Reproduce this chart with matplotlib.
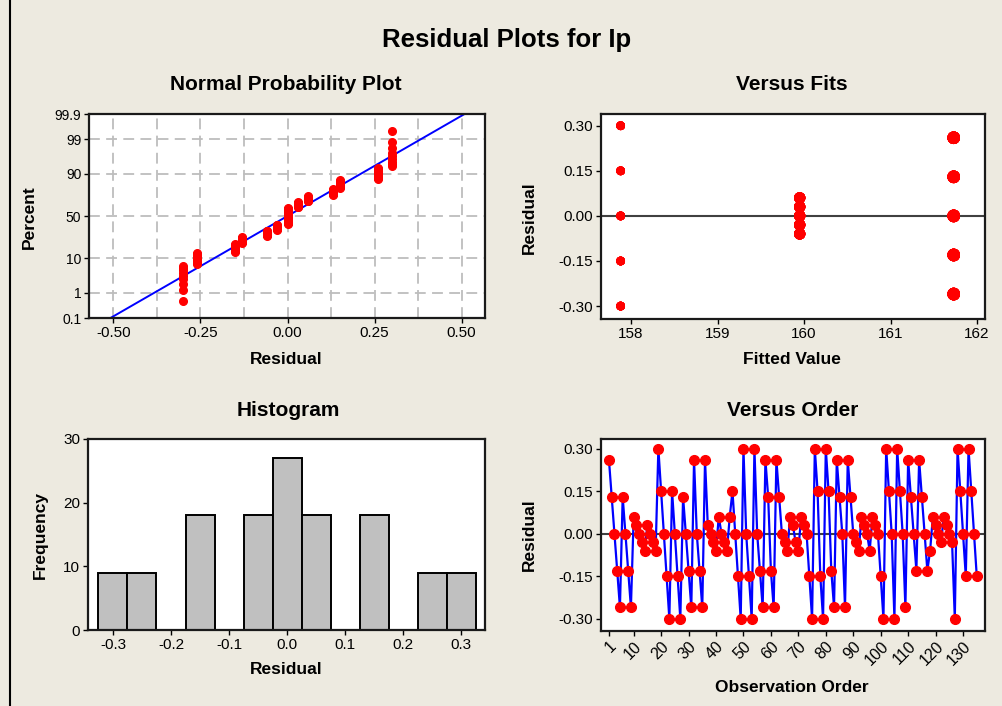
import matplotlib
matplotlib.use("Agg")
import matplotlib.pyplot as plt
import numpy as np
from statistics import NormalDist

plt.rcParams["font.family"] = "Liberation Sans"
plt.rcParams["axes.unicode_minus"] = False

residuals = [
    0.26, 0.13, 0.00, -0.13, -0.26, 0.13, 0.00, -0.13, -0.26,
    0.06, 0.03, 0.00, -0.03, -0.06, 0.03, 0.00, -0.03, -0.06,
    0.30, 0.15, 0.00, -0.15, -0.30, 0.15, 0.00, -0.15, -0.30,
    0.13, 0.00, -0.13, -0.26, 0.26, 0.00, -0.13, -0.26, 0.26,
    0.03, 0.00, -0.03, -0.06, 0.06, 0.00, -0.03, -0.06, 0.06,
    0.15, 0.00, -0.15, -0.30, 0.30, 0.00, -0.15, -0.30, 0.30,
    0.00, -0.13, -0.26, 0.26, 0.13, -0.13, -0.26, 0.26, 0.13,
    0.00, -0.03, -0.06, 0.06, 0.03, -0.03, -0.06, 0.06, 0.03,
    0.00, -0.15, -0.30, 0.30, 0.15, -0.15, -0.30, 0.30, 0.15,
    -0.13, -0.26, 0.26, 0.13, 0.00, -0.26, 0.26, 0.13, 0.00,
    -0.03, -0.06, 0.06, 0.03, 0.00, -0.06, 0.06, 0.03, 0.00,
    -0.15, -0.30, 0.30, 0.15, 0.00, -0.30, 0.30, 0.15, 0.00,
    -0.26, 0.26, 0.13, 0.00, -0.13, 0.26, 0.13, 0.00, -0.13,
    -0.06, 0.06, 0.03, 0.00, -0.03, 0.06, 0.03, 0.00, -0.03,
    -0.30, 0.30, 0.15, 0.00, -0.15, 0.30, 0.15, 0.00, -0.15,
]
# fitted value of each run of 9 observations
run_fits = [161.73, 159.95, 157.88, 161.73, 159.95, 157.88, 161.73, 159.95,
            157.88, 161.73, 159.95, 157.88, 161.73, 159.95, 157.88]

prob_ticks = [0.1, 1, 10, 50, 90, 99, 99.9]
prob_labels = ["0.1", "1", "10", "50", "90", "99", "99.9"]
npp_xticks = [-0.50, -0.25, 0.00, 0.25, 0.50]
fit_xticks = [158, 159, 160, 161, 162]
res_ticks = [-0.30, -0.15, 0.00, 0.15, 0.30]
hist_xticks = [-0.3, -0.2, -0.1, 0.0, 0.1, 0.2, 0.3]
hist_yticks = [0, 10, 20, 30]
order_ticks = [1, 10, 20, 30, 40, 50, 60, 70, 80, 90, 100, 110, 120, 130]

res = np.array(residuals)
fits = np.repeat(run_fits, 9)
obs = np.arange(1, len(res) + 1)

W, H = 1002, 706
BG = "#EDEAE0"
SPINE = "#1A1A1A"
nd = NormalDist()


def box(left, top, right, bottom):
    return [left / W, 1 - bottom / H, (right - left) / W, (bottom - top) / H]


def ftext(x, y, s, **kw):
    fig.text(x / W, 1 - y / H, s, ha="center", va="center", **kw)


def style(ax):
    ax.set_facecolor("white")
    for sp in ax.spines.values():
        sp.set_linewidth(1.6)
        sp.set_color(SPINE)
    ax.tick_params(direction="out", length=3.5, width=1, labelsize=11,
                   colors="black", pad=2)


fig = plt.figure(figsize=(W / 100, H / 100), dpi=100, facecolor=BG)

# Normal probability plot
ax1 = fig.add_axes(box(89, 114, 485, 318))
style(ax1)
z_lo, z_hi = nd.inv_cdf(0.001), nd.inv_cdf(0.999)
for x in np.arange(-0.5, 0.51, 0.125):
    ax1.axvline(x, color="#BDBDBD", lw=1.3, dashes=(6, 3.5), zorder=0)
for p in prob_ticks[1:-1]:
    ax1.axhline(nd.inv_cdf(p / 100), color="#BDBDBD", lw=1.3, dashes=(6, 3.5), zorder=0)
n = len(res)
pos = [nd.inv_cdf((i - 0.3) / (n + 0.4)) for i in range(1, n + 1)]
mu, sd = res.mean(), res.std(ddof=1)
ax1.plot([mu + sd * z_lo, mu + sd * z_hi], [z_lo, z_hi], color="#0000FF", lw=1.4, zorder=2)
ax1.plot(np.sort(res), pos, "o", color="red", ms=5.5, mec="red", zorder=3)
ax1.set_xlim(-0.570, 0.567)
ax1.set_ylim(z_lo, z_hi)
ax1.set_xticks(npp_xticks)
ax1.set_xticklabels([f"{v:.2f}" for v in npp_xticks])
ax1.set_yticks([nd.inv_cdf(p / 100) for p in prob_ticks])
ax1.set_yticklabels(prob_labels)
ax1.tick_params(axis="y", labelsize=10)

# Versus fits
ax2 = fig.add_axes(box(601, 114, 985, 319))
style(ax2)
ax2.axhline(0, color="#404040", lw=1.5, zorder=1)
fit_size = {157.88: 28, 159.95: 50, 161.73: 65}
ax2.scatter(fits, res, s=[fit_size[f] for f in fits], color="red", zorder=3)
ax2.set_xlim(157.653, 162.092)
ax2.set_ylim(-0.343, 0.339)
ax2.set_xticks(fit_xticks)
ax2.set_yticks(res_ticks)
ax2.set_yticklabels([f"{v:.2f}" for v in res_ticks])

# Histogram
ax3 = fig.add_axes(box(88, 439, 485, 630))
style(ax3)
edges = np.linspace(-0.325, 0.325, 14)
ax3.hist(res, bins=edges, color="#C0C0C0", edgecolor="black", linewidth=1.4, zorder=2)
ax3.set_xlim(-0.343, 0.341)
ax3.set_ylim(0, 30)
ax3.set_xticks(hist_xticks)
ax3.set_xticklabels([f"{v:.1f}" for v in hist_xticks])
ax3.set_yticks(hist_yticks)

# Versus order
ax4 = fig.add_axes(box(601, 439, 985, 631))
style(ax4)
ax4.axhline(0, color="#404040", lw=1.5, zorder=1)
ax4.plot(obs, res, color="#0000FF", lw=1.6, marker="o", ms=7,
         mfc="red", mec="red", zorder=2)
ax4.set_xlim(-1.9, 138.0)
ax4.set_ylim(-0.343, 0.334)
ax4.set_xticks(order_ticks)
ax4.set_xticklabels([str(v) for v in order_ticks], rotation=45, ha="right",
                    va="top", rotation_mode="anchor", fontsize=11.5)
ax4.set_yticks(res_ticks)
ax4.set_yticklabels([f"{v:.2f}" for v in res_ticks])

# titles and labels
ftext(507, 40, "Residual Plots for Ip", size=18.5, weight="bold")
ftext(286, 85, "Normal Probability Plot", size=15, weight="bold")
ftext(792, 85, "Versus Fits", size=15, weight="bold")
ftext(288, 411, "Histogram", size=15, weight="bold")
ftext(793, 411, "Versus Order", size=15, weight="bold")

ftext(286, 360, "Residual", size=12.5, weight="bold")
ftext(29, 217, "Percent", size=12.5, weight="bold", rotation=90)
ftext(792, 360, "Fitted Value", size=12.5, weight="bold")
ftext(529, 218, "Residual", size=12.5, weight="bold", rotation=90)
ftext(286, 670, "Residual", size=12.5, weight="bold")
ftext(40, 535, "Frequency", size=12.5, weight="bold", rotation=90)
ftext(792, 687, "Observation Order", size=12.5, weight="bold")
ftext(529, 535, "Residual", size=12.5, weight="bold", rotation=90)

# frame line on the left edge
fig.add_artist(plt.Line2D([9.5 / W, 9.5 / W], [0, 1], color="black", lw=1.5,
                          transform=fig.transFigure))

fig.savefig("out.png", dpi=100, facecolor=BG)
